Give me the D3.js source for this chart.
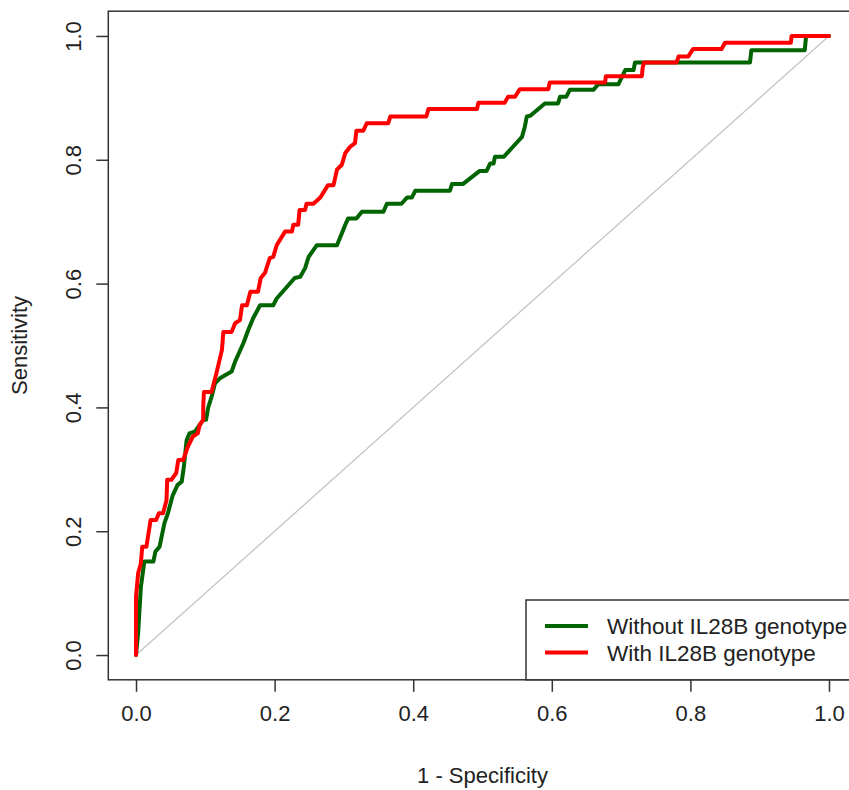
<!DOCTYPE html>
<html>
<head>
<meta charset="utf-8">
<script src="https://cdn.jsdelivr.net/npm/d3@7"></script>
<style>
  html, body { margin: 0; padding: 0; background: #fff; }
  svg { display: block; font-family: "Liberation Sans", Arial, sans-serif; }
</style>
</head>
<body>
<svg id="chart" width="849" height="790"></svg>
<script>
// ROC points: [1 - specificity, sensitivity]
var withoutGenotype = [
  [0, 0], [0.003, 0.035], [0.007, 0.110], [0.012, 0.151], [0.025, 0.151],
  [0.028, 0.167], [0.034, 0.175], [0.041, 0.213], [0.046, 0.229], [0.053, 0.258],
  [0.060, 0.275], [0.066, 0.280], [0.069, 0.304], [0.073, 0.347], [0.077, 0.358],
  [0.085, 0.361], [0.097, 0.380], [0.101, 0.380], [0.104, 0.399], [0.109, 0.417],
  [0.114, 0.439], [0.121, 0.447], [0.138, 0.458], [0.143, 0.474], [0.155, 0.504],
  [0.162, 0.525], [0.169, 0.544], [0.179, 0.565], [0.198, 0.565], [0.203, 0.576],
  [0.229, 0.609], [0.237, 0.611], [0.244, 0.625], [0.249, 0.643], [0.261, 0.662],
  [0.290, 0.662], [0.302, 0.695], [0.306, 0.705], [0.318, 0.705], [0.326, 0.716],
  [0.357, 0.716], [0.362, 0.729], [0.383, 0.729], [0.391, 0.739], [0.398, 0.739],
  [0.403, 0.750], [0.453, 0.750], [0.456, 0.761], [0.472, 0.761], [0.496, 0.782],
  [0.506, 0.782], [0.511, 0.794], [0.516, 0.794], [0.518, 0.805], [0.531, 0.805],
  [0.544, 0.821], [0.557, 0.837], [0.561, 0.853], [0.564, 0.870], [0.569, 0.871],
  [0.590, 0.891], [0.609, 0.891], [0.612, 0.902], [0.621, 0.902], [0.626, 0.913],
  [0.660, 0.913], [0.667, 0.922], [0.696, 0.922], [0.706, 0.945], [0.718, 0.945],
  [0.720, 0.957], [0.886, 0.957], [0.888, 0.977], [0.965, 0.977], [0.967, 1.000],
  [1, 1]
]

var withGenotype = [
  [0, 0], [0.000, 0.011], [0.000, 0.062], [0.000, 0.094], [0.003, 0.132],
  [0.007, 0.148], [0.009, 0.175], [0.015, 0.175], [0.017, 0.189], [0.021, 0.218],
  [0.029, 0.218], [0.033, 0.229], [0.039, 0.229], [0.044, 0.250], [0.045, 0.283],
  [0.051, 0.283], [0.058, 0.294], [0.061, 0.315], [0.068, 0.315], [0.075, 0.337],
  [0.082, 0.353], [0.089, 0.358], [0.092, 0.372], [0.097, 0.380], [0.097, 0.401],
  [0.098, 0.425], [0.109, 0.425], [0.116, 0.455], [0.124, 0.493], [0.126, 0.522],
  [0.138, 0.522], [0.143, 0.536], [0.150, 0.541], [0.153, 0.565], [0.160, 0.565],
  [0.165, 0.587], [0.176, 0.587], [0.180, 0.609], [0.186, 0.617], [0.193, 0.641],
  [0.198, 0.643], [0.203, 0.662], [0.215, 0.684], [0.225, 0.684], [0.227, 0.695],
  [0.234, 0.695], [0.236, 0.719], [0.244, 0.719], [0.246, 0.729], [0.256, 0.729],
  [0.266, 0.739], [0.277, 0.759], [0.285, 0.759], [0.290, 0.784], [0.297, 0.792],
  [0.302, 0.811], [0.309, 0.821], [0.316, 0.827], [0.318, 0.847], [0.328, 0.847],
  [0.333, 0.859], [0.364, 0.859], [0.367, 0.870], [0.419, 0.870], [0.422, 0.882],
  [0.492, 0.882], [0.494, 0.892], [0.532, 0.892], [0.537, 0.902], [0.547, 0.902],
  [0.554, 0.914], [0.595, 0.914], [0.597, 0.925], [0.677, 0.925], [0.678, 0.935],
  [0.730, 0.935], [0.731, 0.948], [0.733, 0.957], [0.780, 0.957], [0.783, 0.967],
  [0.797, 0.967], [0.804, 0.979], [0.845, 0.979], [0.850, 0.989], [0.945, 0.989],
  [0.946, 1.000], [1, 1]
]

var chance = [[0, 0], [1, 1]]
var tickValues = [0, 0.2, 0.4, 0.6, 0.8, 1.0]
var seriesNames = ['Without IL28B genotype', 'With IL28B genotype']
var seriesColors = ['#006400', '#ff0000']

var svg = d3.select('#chart')

// R style: 4% padding round the 0..1 range
var x = d3.scaleLinear().domain([-0.04, 1.04]).range([108.3, 856.7]),
  y = d3.scaleLinear().domain([-0.04, 1.04]).range([679.8, 11.2])

var fmt = d3.format('.1f')

var line = d3.line()
  .x(function(d) { return x(d[0]) })
  .y(function(d) { return y(d[1]) })

svg.append('path')
  .datum(chance)
  .attr('d', line)
  .attr('fill', 'none')
  .attr('stroke', '#c4c4c4')
  .attr('stroke-width', 1.3)

svg.selectAll('path.roc').data([withoutGenotype, withGenotype]).enter()
  .append('path')
  .attr('class', 'roc')
  .attr('d', line)
  .attr('fill', 'none')
  .attr('stroke', function(d, i) { return seriesColors[i] })
  .attr('stroke-width', 4)
  .attr('stroke-linejoin', 'round')
  .attr('stroke-linecap', 'round')

// axes
var xAxis = svg.append('g')
  .attr('transform', 'translate(0,' + y(-0.04) + ')')
  .call(d3.axisBottom(x).tickValues(tickValues).tickFormat(fmt).tickSize(12).tickPadding(14))

var yAxis = svg.append('g')
  .attr('transform', 'translate(' + x(-0.04) + ',0)')
  .call(d3.axisLeft(y).tickValues(tickValues).tickFormat(fmt).tickSize(12).tickPadding(14))

xAxis.select('.domain').remove()
yAxis.select('.domain').remove()

svg.selectAll('.tick line').attr('stroke', '#333').attr('stroke-width', 1.5)
svg.selectAll('.tick text').attr('fill', '#222').style('font-size', '22px')
  .style('font-family', '"Liberation Sans", Arial, sans-serif')

yAxis.selectAll('.tick text')
  .attr('text-anchor', 'middle')
  .attr('dy', null)
  .attr('x', null)
  .attr('transform', 'translate(-27,0) rotate(-90)')

// plot frame
svg.append('rect')
  .attr('x', x(-0.04))
  .attr('y', y(1.04))
  .attr('width', x(1.04) - x(-0.04))
  .attr('height', y(-0.04) - y(1.04))
  .attr('fill', 'none')
  .attr('stroke', '#333')
  .attr('stroke-width', 1.5)

// axis titles
svg.append('text')
  .attr('x', (x(-0.04) + x(1.04)) / 2)
  .attr('y', 783)
  .attr('text-anchor', 'middle')
  .attr('fill', '#222')
  .style('font-size', '22px')
  .text('1 - Specificity')

svg.append('text')
  .attr('transform', 'translate(27,' + y(0.5) + ') rotate(-90)')
  .attr('text-anchor', 'middle')
  .attr('fill', '#222')
  .style('font-size', '22px')
  .text('Sensitivity')

// legend, tucked in the bottom right corner
var legend = svg.append('g')
legend.append('rect')
  .attr('x', 526)
  .attr('y', 600)
  .attr('width', x(1.04) - 526)
  .attr('height', y(-0.04) - 600)
  .attr('fill', '#fff')
  .attr('stroke', '#333')
  .attr('stroke-width', 1.5)

var items = legend.selectAll('g.item').data(seriesNames).enter()
  .append('g')
  .attr('class', 'item')
  .attr('transform', function(d, i) { return 'translate(0,' + (626 + i * 26.5) + ')' })

items.append('line')
  .attr('x1', 545).attr('x2', 588)
  .attr('stroke', function(d, i) { return seriesColors[i] })
  .attr('stroke-width', 4)

items.append('text')
  .attr('x', 607)
  .attr('y', 8)
  .attr('fill', '#222')
  .style('font-size', '22.5px')
  .text(function(d) { return d })
</script>
</body>
</html>
